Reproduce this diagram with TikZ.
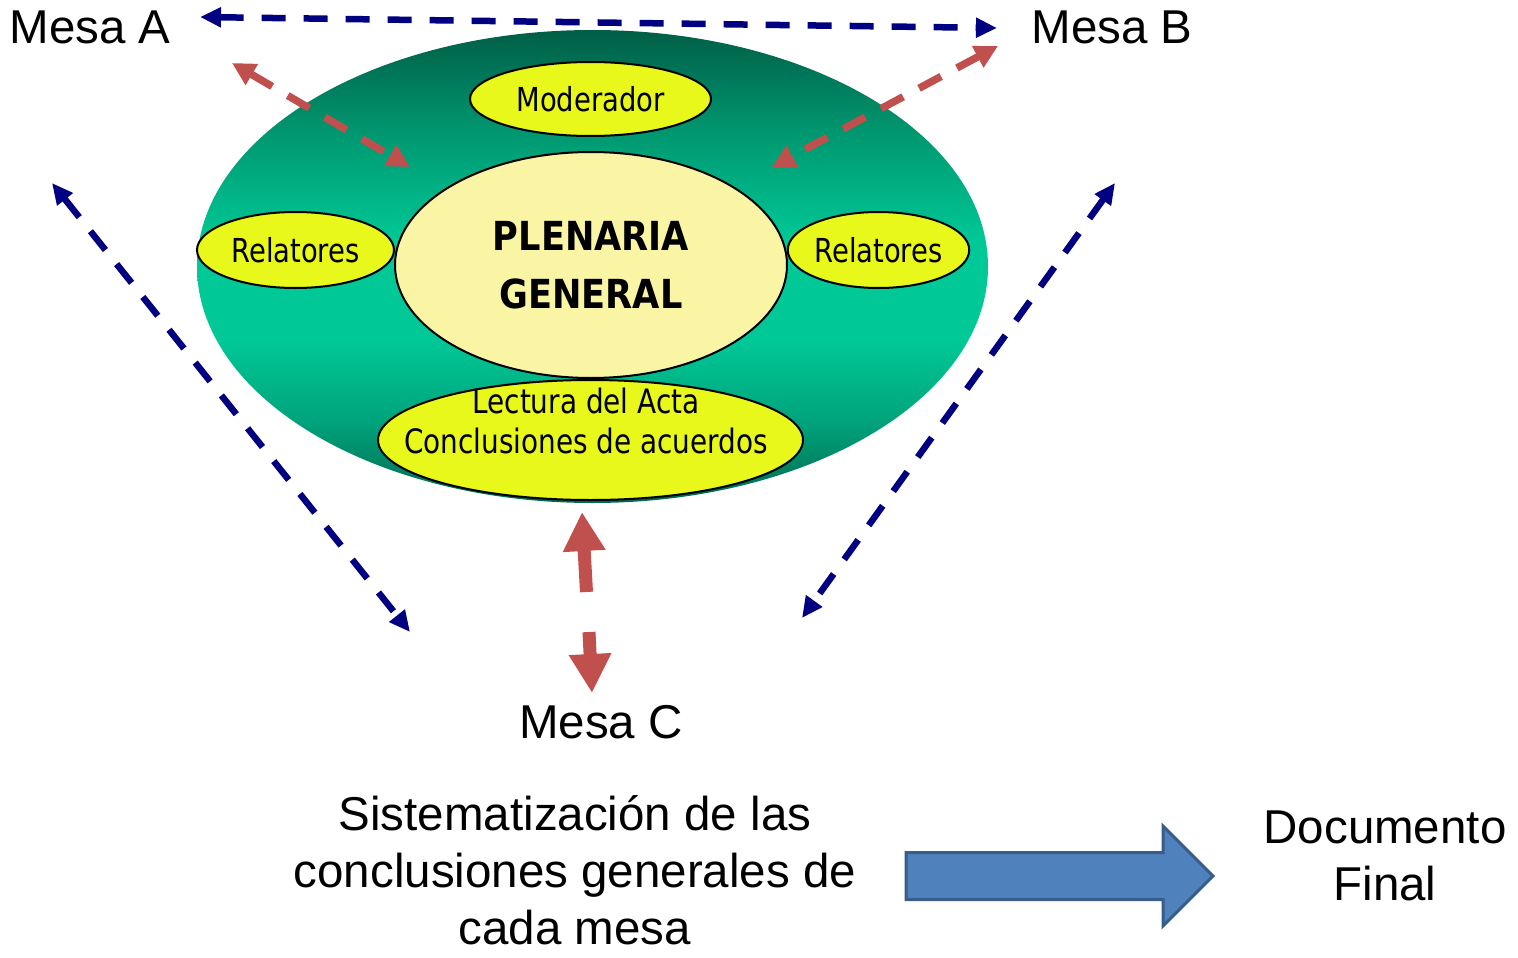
\documentclass[tikz,border=0pt]{standalone}
\usepackage{fontspec}
\setmainfont{Liberation Sans}
\newfontfamily\tah[FakeStretch=0.83]{DejaVu Sans}
\newfontfamily\tahB[FakeStretch=0.88]{DejaVu Sans}
\usetikzlibrary{arrows.meta,shapes.geometric}
\definecolor{navyA}{HTML}{000080}
\definecolor{redA}{HTML}{C0504D}
\definecolor{yelA}{HTML}{E8F81A}
\definecolor{paleY}{HTML}{FAF5A5}
\definecolor{blueA}{HTML}{4F81BD}
\definecolor{blueB}{HTML}{385D8A}
\definecolor{gTop}{HTML}{005E46}
\definecolor{gUp}{HTML}{00966F}
\definecolor{gMid}{HTML}{00C896}
\definecolor{gLow}{HTML}{00A47C}
\definecolor{gBot}{HTML}{006A50}
\pgfdeclareverticalshading{ringshade}{100bp}{color(0bp)=(gBot); color(25bp)=(gBot); color(33.8bp)=(gLow); color(42.2bp)=(gMid); color(52.8bp)=(gMid); color(64.4bp)=(gUp); color(75bp)=(gTop); color(100bp)=(gTop)}
\tikzset{
  oval/.style={ellipse, draw=black, line width=2, inner sep=0, fill=yelA, font=\tah\fontsize{33}{38}\selectfont},
  bigtxt/.style={font=\fontsize{47.5}{57}\selectfont, align=center, inner sep=0},
  bluedash/.style={draw=navyA, line width=6.5, dash pattern=on 24 off 18, {Triangle[length=21,width=19]}-{Triangle[length=21,width=19]}},
  reddash/.style={draw=redA, line width=7.5, dash pattern=on 25 off 18, {Triangle[length=23,width=23]}-{Triangle[length=23,width=23]}},
  fatred/.style={draw=redA, line width=13, -{Triangle[length=39,width=40]}},
}
\begin{document}
\begin{tikzpicture}[x=1pt,y=-1pt]
\useasboundingbox (0,0) rectangle (1518,958);
% central green ellipse
\node[ellipse, minimum width=791, minimum height=473, inner sep=0, shading=ringshade] (ring) at (592.5,266.5) {};
\node[oval, minimum width=241, minimum height=74] (mod) at (590.5,99) {Moderador};
\node[oval, fill=paleY, minimum width=392, minimum height=226, align=center, font=\tahB\bfseries\fontsize{40}{58}\selectfont] (plen) at (591,265) {PLENARIA\\GENERAL};
\node[oval, minimum width=197, minimum height=76] (relL) at (295.5,250) {Relatores};
\node[oval, minimum width=181, minimum height=76] (relR) at (878.5,250) {Relatores};
\node[oval, minimum width=425, minimum height=120] (lect) at (590.5,440) {};
\node[align=center, inner sep=0, font=\tah\fontsize{33.6}{40}\selectfont] (lecttxt) at (586,421) {Lectura del Acta\\Conclusiones de acuerdos};
% texts
\node[bigtxt, anchor=base] (mesaA) at (90,44) {Mesa A};
\node[bigtxt, anchor=base] (mesaB) at (1112,44) {Mesa B};
\node[bigtxt, anchor=base] (mesaC) at (601,738) {Mesa C};
\node[bigtxt] (sist) at (575,870) {Sistematización de las\\conclusiones generales de\\cada mesa};
\node[bigtxt] (doc) at (1385,856) {Documento\\Final};
% connector end points
\coordinate (tA) at (200,17);
\coordinate (tB) at (997,28);
\coordinate (lA) at (52,183);
\coordinate (lC) at (410,632);
\coordinate (rB) at (1115,183);
\coordinate (rC) at (802,618);
\coordinate (pA) at (232,63);
\coordinate (pA2) at (410,167);
\coordinate (pB) at (998,46);
\coordinate (pB2) at (772,167);
\coordinate (upS) at (586.5,592);
\coordinate (upT) at (582,512);
\coordinate (dnS) at (589,632);
\coordinate (dnT) at (592,693);
% blue dashed arrows
\draw[bluedash] (tA) -- (tB);
\draw[bluedash] (lA) -- (lC);
\draw[bluedash] (rB) -- (rC);
% red dashed arrows
\draw[reddash] (pA) -- (pA2);
\draw[reddash] (pB) -- (pB2);
% red thick arrows
\draw[fatred] (upS) -- (upT);
\draw[fatred] (dnS) -- (dnT);
% block arrow
\coordinate (ba) at (906,876);
\draw[fill=blueA, draw=blueB, line width=3, line join=miter]
  (ba) ++(0,-23.5) -- ++(257,0) -- ++(0,-26.5) -- ++(50,50) -- ++(-50,50) -- ++(0,-26.5) -- ++(-257,0) -- cycle;
\end{tikzpicture}
\end{document}
